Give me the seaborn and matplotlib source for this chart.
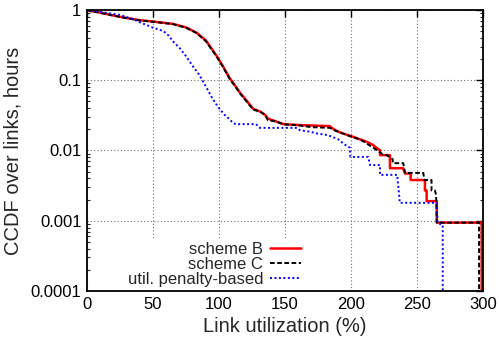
import matplotlib
matplotlib.use("Agg")
import matplotlib.pyplot as plt
import matplotlib.ticker as mticker
import seaborn as sns
import numpy as np

# ---- data ----
b_x = [0, 3, 8, 15, 25, 40, 50, 65, 75, 83, 90, 98, 103, 108, 113, 116, 121, 126, 131, 135, 137, 143, 149, 159, 170, 184,
       185.5, 188, 192, 197, 201.5, 206, 212, 216.7, 219, 222, 222, 229.5, 229.5, 239.4, 241, 245.2, 245.2, 256, 256,
       257.3, 257.3, 265, 265, 299, 299]
b_y = [1.0, 0.965, 0.935, 0.875, 0.80, 0.715, 0.685, 0.635, 0.565, 0.475, 0.37, 0.225, 0.158, 0.108, 0.08, 0.066, 0.051,
       0.039, 0.036, 0.032, 0.0285, 0.026, 0.0237, 0.0231, 0.0227, 0.0222,
       0.021, 0.0195, 0.018, 0.0167, 0.0157, 0.0146, 0.0133, 0.012, 0.011, 0.0101, 0.0086, 0.0086, 0.0056, 0.0056,
       0.0047, 0.0047, 0.0038, 0.0038, 0.0027, 0.0027, 0.0019, 0.0019, 0.00094, 0.00094, 1e-6]

c_x = [0, 3, 8, 15, 25, 40, 50, 65, 75, 83, 90, 98, 103, 108, 113, 116, 121, 126, 131, 135, 137, 143, 149, 159, 170, 184,
       187, 192, 200, 206, 210, 215, 220, 224, 227, 231.6, 231.6, 239.6, 241, 254.8, 255.5, 261, 261, 263.6, 264.5, 265,
       297, 297]
c_y = [1.0, 0.96, 0.93, 0.87, 0.795, 0.71, 0.68, 0.63, 0.56, 0.47, 0.36, 0.22, 0.155, 0.105, 0.078, 0.065, 0.0495,
       0.038, 0.036, 0.032, 0.027, 0.026, 0.0235, 0.023, 0.0215, 0.021,
       0.0195, 0.018, 0.0158, 0.0145, 0.0133, 0.0115, 0.0100, 0.0088, 0.0086, 0.0075, 0.0066, 0.0066, 0.0048, 0.0048,
       0.0038, 0.0038, 0.0027, 0.0027, 0.0023, 0.00094, 0.00094, 1e-6]

u_x = [0, 10, 25, 35, 40, 50, 58, 62, 65, 70, 75, 80, 85, 90, 95, 100, 105, 108, 110.6, 113, 128, 131, 159, 161, 169,
       174, 182, 186, 190, 194, 197, 199, 199.5, 213, 214.5, 222, 222, 235, 237, 265, 265.5, 269.5, 269.5]
u_y = [1.0, 0.94, 0.85, 0.74, 0.67, 0.56, 0.50, 0.43, 0.36, 0.29, 0.22, 0.16, 0.12, 0.082, 0.055, 0.040, 0.031, 0.028,
       0.0245, 0.0237, 0.0237, 0.021, 0.021, 0.0195, 0.0185, 0.0175, 0.0166, 0.0156, 0.0145, 0.0127, 0.0115, 0.011,
       0.0081, 0.0081, 0.0062, 0.0062, 0.0045, 0.0045, 0.0018, 0.0018, 0.00093, 0.00087, 1e-6]

labels = ["scheme B", "scheme C", "util. penalty-based"]
x_ticks = [0, 50, 100, 150, 200, 250, 300]
y_ticks = [1, 0.1, 0.01, 0.001, 0.0001]

# ---- style ----
sns.set_style("white")
plt.rcParams['font.family'] = ['Liberation Sans', 'DejaVu Sans']

fig = plt.figure(figsize=(5.0, 3.39), dpi=100)
ax = fig.add_axes([0.174, 0.1416, 0.792, 0.8289])

sns.lineplot(x=b_x, y=b_y, estimator=None, sort=False, ax=ax, color="#ff0000", lw=1.8, label=labels[0])
sns.lineplot(x=c_x, y=c_y, estimator=None, sort=False, ax=ax, color="black", lw=1.4,
             linestyle=(0, (2.4, 1.3)), label=labels[1])
sns.lineplot(x=u_x, y=u_y, estimator=None, sort=False, ax=ax, color="#0000ff", lw=1.4,
             linestyle=(0, (1.0, 1.3)), label=labels[2])

ax.set_yscale("log")
ax.set_xlim(0, 300)
ax.set_ylim(1e-4, 1)
ax.set_xticks(x_ticks)
ax.set_yticks(y_ticks)
ax.yaxis.set_major_formatter(mticker.FuncFormatter(lambda v, p: f"{v:g}"))
ax.yaxis.set_minor_locator(mticker.LogLocator(base=10, subs=np.arange(2, 10)))
ax.yaxis.set_minor_formatter(mticker.NullFormatter())
ax.xaxis.set_minor_locator(mticker.NullLocator())

ax.tick_params(axis="both", which="major", direction="in", length=5, width=1.0,
               top=True, right=True, labelsize=12, pad=4, colors="black")
ax.tick_params(axis="y", which="minor", direction="in", length=2.5, width=0.8, left=True, right=True)

for s in ax.spines.values():
    s.set_linewidth(1.3)
    s.set_color("black")
    s.set_zorder(6)

ax.grid(True, which="major", color="0.45", linestyle=(0, (1, 2)), linewidth=0.8)
ax.set_axisbelow(True)

ax.set_xlabel("Link utilization (%)", fontsize=14.5, labelpad=4)
ax.set_ylabel("CCDF over links, hours", fontsize=14.5, labelpad=6)

leg = ax.legend(loc="lower right", bbox_to_anchor=(0.552, 0.0), borderaxespad=0.0,
                markerfirst=False, frameon=True, fancybox=False, framealpha=1.0,
                facecolor="white", edgecolor="none", fontsize=12, labelspacing=0.0,
                handlelength=1.9, handletextpad=0.4, borderpad=0.25)
leg.set_zorder(5)

fig.savefig("out.png", dpi=100)
